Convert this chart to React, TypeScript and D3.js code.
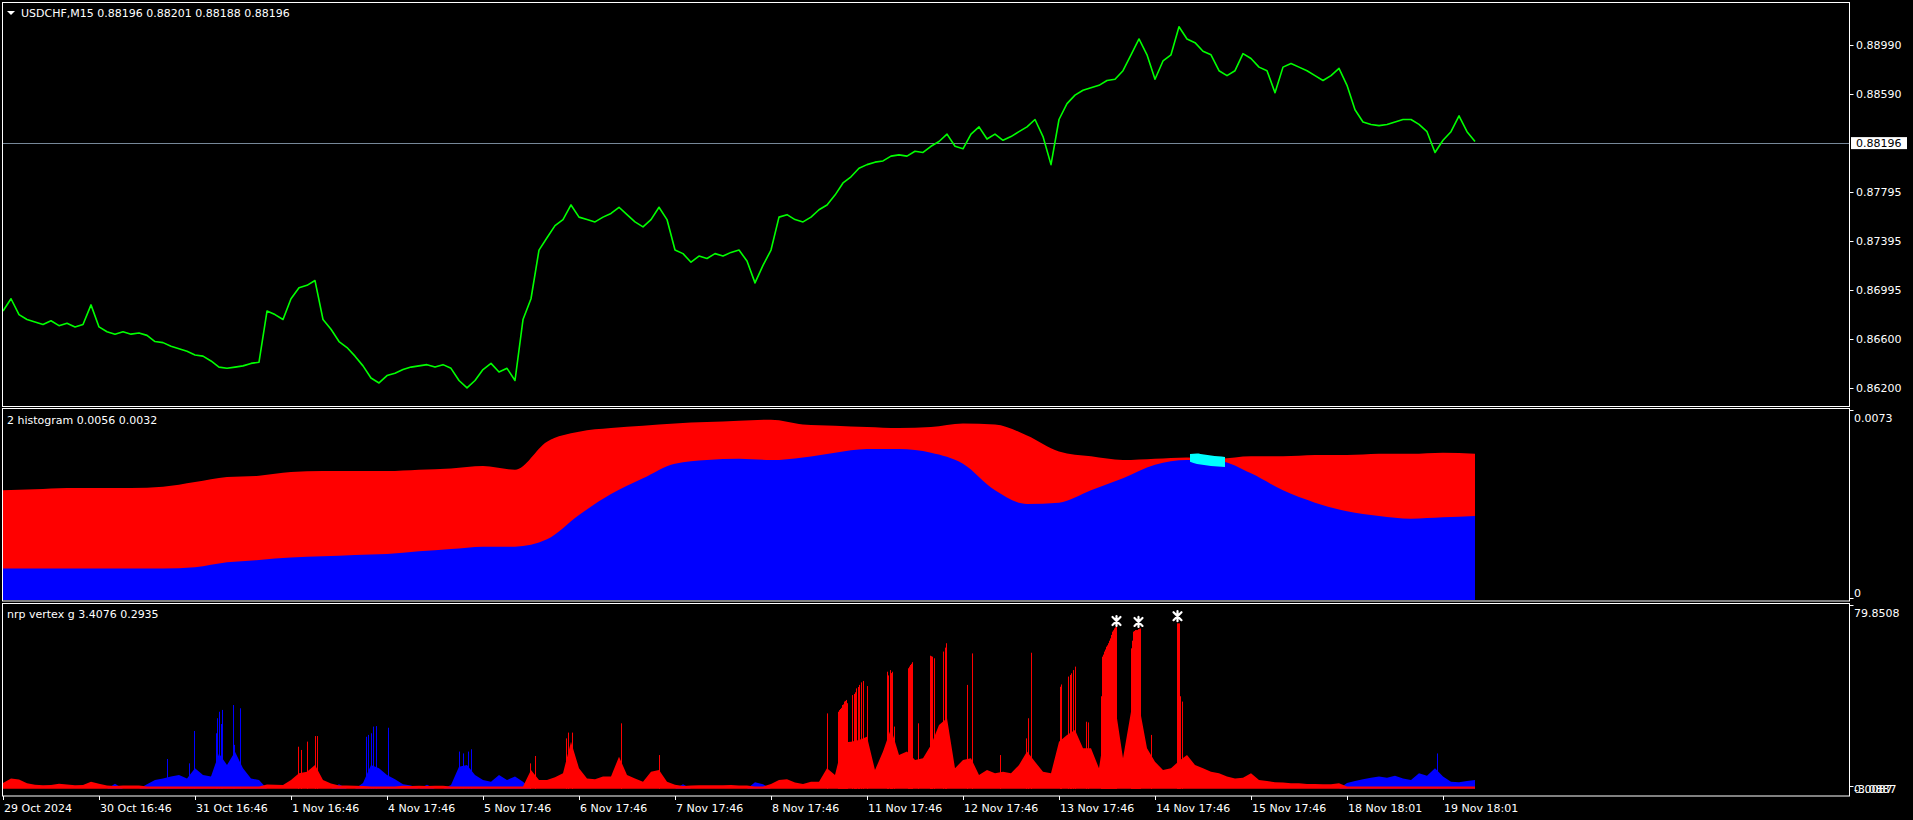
import React, { useEffect } from 'react';
import * as d3 from 'd3';

const W = 1913;
const H = 820;

// ---------- DATA ----------
const symbolTitle = 'USDCHF,M15  0.88196 0.88201 0.88188 0.88196';
const histTitle = '2 histogram 0.0056 0.0032';
const vertexTitle = 'nrp vertex g 3.4076 0.2935';

const priceTicks = [0.8899, 0.8859, 0.87795, 0.87395, 0.86995, 0.866, 0.862];
const priceTickLabels = ['0.88990', '0.88590', '0.87795', '0.87395', '0.86995', '0.86600', '0.86200'];
const lastPrice = 0.88196;
const lastPriceLabel = '0.88196';

const timeLabels = [
  '29 Oct 2024', '30 Oct 16:46', '31 Oct 16:46', '1 Nov 16:46', '4 Nov 17:46', '5 Nov 17:46',
  '6 Nov 17:46', '7 Nov 17:46', '8 Nov 17:46', '11 Nov 17:46', '12 Nov 17:46', '13 Nov 17:46',
  '14 Nov 17:46', '15 Nov 17:46', '18 Nov 18:01', '19 Nov 18:01',
];
const BARS_PER_DAY = 96;
const TOTAL_BARS = 1475;

// price closes sampled every 8 bars (2 hours)
const PRICE_STEP = 8;
const priceCloses = [
  0.86826, 0.86926, 0.86797, 0.86757, 0.86737, 0.86717, 0.86747, 0.86707, 0.86727, 0.86697,
  0.86717, 0.86876, 0.86697, 0.86658, 0.86638, 0.86658, 0.86638, 0.86648, 0.86628, 0.86578,
  0.86569, 0.86539, 0.86519, 0.86499, 0.86469, 0.86459, 0.8642, 0.8637, 0.8636, 0.8637,
  0.8638, 0.864, 0.8641, 0.86826, 0.86797, 0.86757, 0.86926, 0.87015, 0.87035, 0.87074,
  0.86757, 0.86678, 0.86578, 0.86529, 0.86459, 0.8638, 0.86281, 0.86241, 0.86301, 0.8632,
  0.8635, 0.8637, 0.8638, 0.8639, 0.8637, 0.8639, 0.8636, 0.86261, 0.86201, 0.86261,
  0.8635, 0.864, 0.8633, 0.8636, 0.86261, 0.86757, 0.86926, 0.87322, 0.87422, 0.87521,
  0.8757, 0.87689, 0.8759, 0.8757, 0.87551, 0.8759, 0.8762, 0.8767, 0.8761, 0.87551,
  0.87511, 0.8757, 0.8767, 0.8757, 0.87322, 0.87293, 0.87223, 0.87273, 0.87253, 0.87293,
  0.87273, 0.87303, 0.87322, 0.87233, 0.87055, 0.87197, 0.87322, 0.8759, 0.8761, 0.8757,
  0.87551, 0.8759, 0.8765, 0.87689, 0.87769, 0.87868, 0.87918, 0.87987, 0.88017, 0.88037,
  0.88047, 0.88086, 0.88096, 0.88086, 0.88126, 0.88116, 0.88166, 0.88205, 0.88265, 0.88166,
  0.88146, 0.88265, 0.88324, 0.88225, 0.88265, 0.88215, 0.88245, 0.88285, 0.88324, 0.88384,
  0.88245, 0.88017, 0.88384, 0.88513, 0.88582, 0.88622, 0.88642, 0.88662, 0.88701, 0.88711,
  0.88781, 0.8891, 0.89039, 0.8891, 0.88711, 0.8886, 0.8891, 0.89138, 0.89039, 0.89009,
  0.88939, 0.8891, 0.88781, 0.88741, 0.88781, 0.8892, 0.8888, 0.8881, 0.88781, 0.88602,
  0.8881, 0.8884, 0.8881, 0.88781, 0.88741, 0.88701, 0.88741, 0.888, 0.88662, 0.88463,
  0.88364, 0.88344, 0.88334, 0.88344, 0.88364, 0.88384, 0.88384, 0.88344, 0.88285, 0.88116,
  0.88215, 0.88285, 0.88414, 0.88285, 0.88205,
];

// histogram indicator, sampled every 32 bars
const HIST_STEP = 32;
const histMax = 0.0073;
const histRed = [
  0.00419, 0.00423, 0.00428, 0.00428, 0.00428, 0.00433, 0.00451, 0.0047, 0.00475, 0.00489,
  0.00493, 0.00493, 0.00493, 0.00498, 0.00503, 0.00512, 0.00498, 0.00605, 0.00643, 0.00657,
  0.00666, 0.00675, 0.0068, 0.00685, 0.00689, 0.00671, 0.00666, 0.00661, 0.00657, 0.00661,
  0.00675, 0.00671, 0.00629, 0.00568, 0.00549, 0.00535, 0.0054, 0.00545, 0.0054, 0.00549,
  0.00549, 0.00554, 0.00554, 0.00559, 0.00559, 0.00563, 0.00559,
];
const histBlue = [
  0.0012, 0.0012, 0.0012, 0.0012, 0.0012, 0.0012, 0.00125, 0.00144, 0.00153, 0.00162,
  0.00167, 0.00172, 0.00176, 0.00186, 0.00195, 0.00204, 0.00204, 0.00232, 0.00325, 0.00405,
  0.00465, 0.00521, 0.00535, 0.0054, 0.00535, 0.00545, 0.00563, 0.00577, 0.00577, 0.00563,
  0.00521, 0.00419, 0.00367, 0.00372, 0.00419, 0.00465, 0.00517, 0.00535, 0.00531, 0.00484,
  0.00419, 0.00372, 0.00339, 0.00321, 0.00311, 0.00316, 0.00321,
];
const cyanStart = 1187;
const CYAN_STEP = 7;
const cyanHigh = [0.00558, 0.0056, 0.00556, 0.00552, 0.00549, 0.00547];
const cyanLow = [0.00528, 0.0052, 0.00516, 0.00512, 0.0051, 0.00508];

// vertex indicator
const vertexMax = 79.8508;
const vertexMin = -3.0887;
const VERTEX_STEP = 8;
const vertexRed = [
  2.5, 4.5, 4.0, 2.4, 1.8, 1.6, 1.7, 2.2, 1.9, 1.6,
  1.7, 3.1, 2.2, 1.5, 1.2, 1.5, 1.5, 1.5, 1.0, 1.0,
  1.0, 1.0, 1.0, 1.0, 1.0, 1.0, 1.0, 1.0, 1.0, 1.0,
  1.0, 1.0, 1.0, 1.9, 1.8, 1.7, 3.8, 6.7, 7.4, 10.3,
  3.8, 2.3, 1.5, 1.5, 1.3, 1.2, 1.0, 1.0, 1.0, 1.0,
  1.3, 1.2, 1.3, 1.2, 1.3, 1.3, 1.0, 1.0, 1.0, 1.0,
  1.0, 1.0, 1.0, 1.0, 1.0, 1.0, 8.1, 3.8, 3.8, 5.0,
  6.7, 20.4, 8.9, 4.5, 4.1, 5.3, 5.3, 13.9, 6.0, 4.5,
  3.1, 7.4, 8.1, 3.1, 1.8, 1.2, 1.5, 1.6, 1.6, 1.6,
  1.6, 1.7, 1.5, 1.5, 1.0, 1.0, 2.1, 3.8, 4.2, 2.7,
  2.1, 3.1, 3.1, 8.9, 6.0, 20.0, 20.4, 21.1, 22.5, 8.1,
  16.1, 26.1, 14.6, 16.1, 12.5, 13.2, 18.9, 27.6, 30.5, 8.9,
  12.5, 13.2, 6.0, 8.1, 6.7, 7.4, 6.7, 10.3, 16.1, 11.7,
  7.4, 6.7, 20.4, 23.3, 25.4, 17.5, 17.5, 8.9, 31.2, 36.2,
  13.2, 33.3, 36.2, 17.5, 11.7, 8.1, 8.9, 12.0, 14.6, 10.3,
  8.9, 7.4, 6.7, 5.3, 4.5, 4.8, 6.7, 3.8, 3.4, 2.8,
  2.7, 2.4, 2.4, 2.1, 2.1, 2.0, 2.0, 2.4, 1.0, 1.0,
  1.0, 1.0, 1.0, 1.0, 1.0, 1.0, 1.0, 1.0, 1.0, 1.0,
  1.0, 1.0, 1.0, 1.0, 1.0,
];
const vertexBlue = [
  0, 0, 0, 0, 0, 0, 0, 0, 0, 0,
  0, 0, 0, 0, 2.2, 0, 0, 0, 2.0, 3.8,
  4.5, 5.3, 6.0, 4.5, 8.9, 6.0, 5.3, 15.3, 10.3, 16.0,
  8.9, 4.5, 3.8, 0, 0, 0, 0, 0, 0, 0,
  0, 0, 2.0, 0, 0, 2.5, 10.3, 8.9, 6.0, 4.1,
  2.0, 1.5, 0, 1.8, 0, 0, 1.7, 9.6, 10.3, 6.0,
  3.8, 3.1, 6.0, 3.8, 5.3, 3.1, 0, 0, 0, 0,
  0, 0, 0, 0, 0, 0, 0, 0, 0, 0,
  0, 0, 0, 0, 0, 2.0, 0, 0, 0, 0,
  0, 0, 0, 0, 2.8, 2.0, 0, 0, 0, 0,
  0, 0, 0, 0, 0, 0, 0, 0, 0, 0,
  0, 0, 0, 0, 0, 0, 0, 0, 0, 0,
  0, 0, 0, 0, 0, 0, 0, 0, 0, 0,
  0, 0, 0, 0, 0, 0, 0, 0, 0, 0,
  0, 0, 0, 0, 0, 0, 0, 0, 0, 0,
  0, 0, 0, 0, 0, 0, 0, 0, 0, 0,
  0, 0, 0, 0, 0, 0, 0, 0, 2.5, 3.4,
  4.2, 4.8, 5.3, 4.8, 5.7, 4.5, 3.8, 6.7, 5.7, 8.9,
  5.3, 3.1, 2.8, 3.4, 3.8,
];
const blueSpikeBars = [164, 186, 191, 213, 214, 216, 218, 219, 230, 231, 237, 363, 365, 368, 370, 373, 385, 456, 460, 465, 468, 1434];
const blueSpikeValues = [12.9, 11, 25, 24, 30.5, 33.3, 28, 34.1, 36.2, 19, 34.8, 22.5, 23.3, 24, 26.9, 27.1, 26.4, 16.1, 15.3, 16.1, 17.1, 15.3];
const redSpikeBars = [
  295, 298, 304, 312, 314, 527, 532, 563, 565, 569, 618, 656,
  824, 835, 836, 837, 838, 839, 840, 841, 842, 843, 844, 849, 851, 852, 853, 855, 856, 858, 860, 864,
  884, 885, 887, 888, 889, 891, 905, 906, 907, 908, 909, 915, 927, 928, 929, 931, 940, 942, 943, 964, 969, 997,
  1023, 1025, 1028, 1057, 1058, 1065, 1067, 1068, 1070, 1072, 1083, 1085,
  1098, 1099, 1100, 1101, 1102, 1103, 1104, 1105, 1106, 1107, 1108, 1109, 1110, 1111, 1112, 1113,
  1128, 1129, 1130, 1131, 1132, 1133, 1134, 1135, 1136, 1137, 1148,
  1174, 1175, 1176, 1177, 1179,
];
const redSpikeValues = [
  18.2, 16.8, 20.4, 22.8, 22.8, 11, 14.2, 21.8, 24.3, 24.3, 28.3, 14.6,
  32.6, 33.3, 34, 34.5, 35, 36.2, 36.5, 37.7, 38, 38.4, 37, 40.5, 41, 41.7, 43.4, 44, 44.9, 46, 46.6, 44.4,
  50.6, 49, 51.3, 50, 50.6, 26.9, 52.1, 52.8, 53.5, 54, 54.7, 28.3, 57.5, 57.3, 57.1, 56.4, 59.3, 61, 62.9, 44.9, 58.5, 14.6,
  21.8, 30.5, 58.8, 44.1, 45.1, 48.5, 49.2, 49.9, 51.3, 52.8, 29, 28.7,
  40, 57.1, 58, 59.3, 60.2, 61.4, 62, 62.9, 64, 65, 66.5, 67.9, 68.5, 69.3, 69.8, 70,
  60.7, 64, 67.9, 68.2, 68.6, 68.6, 68.6, 69, 69.2, 69.3, 23.3,
  71.5, 71.5, 71.5, 40, 37.7,
];
const markerBars = [1113, 1135, 1174];
const markerValues = [72.5, 72.1, 74.6];

// ---------- LAYOUT ----------
const LEFT = 2.5;
const RIGHT = 1849.5;
const P1 = { top: 2.5, bottom: 406.5 };
const P2 = { top: 408.5, bottom: 601 };
const P3 = { top: 603.5, bottom: 796 };
const FONT = "'DejaVu Sans', Tahoma, sans-serif";
const GRAY = '#778899';

export default function App() {
  useEffect(() => {
    document.body.style.margin = '0';
    document.body.style.background = '#000';
  }, []);

  const x = d3.scaleLinear().domain([0, TOTAL_BARS]).range([3, 1478]);
  const yMain = d3.scaleLinear().domain([0.862, 0.8899]).range([388, 45]);
  const y2 = d3.scaleLinear().domain([0, histMax]).range([600, 409]);
  const y3 = d3.scaleLinear().domain([vertexMin, vertexMax]).range([796, 604]);

  const priceLine = d3
    .line<number>()
    .x((_, i) => x(i * PRICE_STEP))
    .y((d) => yMain(d))
    .curve(d3.curveLinear)(priceCloses) as string;

  const histArea = (vals: number[]) =>
    d3
      .area<number>()
      .x((_, i) => x(Math.min(i * HIST_STEP, TOTAL_BARS)))
      .y0(y2(0))
      .y1((d) => y2(d))
      .curve(d3.curveMonotoneX)(vals) as string;

  const cyanArea = d3
    .area<number>()
    .x((_, i) => x(cyanStart + i * CYAN_STEP))
    .y0((_, i) => y2(cyanLow[i]))
    .y1((d) => y2(d))
    .curve(d3.curveMonotoneX)(cyanHigh) as string;

  const vArea = (vals: number[]) =>
    d3
      .area<number>()
      .x((_, i) => x(i * VERTEX_STEP))
      .y0(y3(0))
      .y1((d) => y3(d))
      .curve(d3.curveLinear)(vals) as string;

  const dayTicks = timeLabels.map((_, i) => i * BARS_PER_DAY);

  const textStyle = { fontFamily: FONT, fontSize: 11, fill: '#fff' } as const;

  return (
    <svg
      width={W}
      height={H}
      style={{ position: 'fixed', left: 0, top: 0, background: '#000', display: 'block' }}
    >
      <rect x={0} y={0} width={W} height={H} fill="#000" />
      <defs>
        <clipPath id="c1"><rect x={LEFT} y={P1.top} width={RIGHT - LEFT} height={P1.bottom - P1.top} /></clipPath>
        <clipPath id="c2"><rect x={LEFT} y={P2.top} width={RIGHT - LEFT} height={P2.bottom - P2.top} /></clipPath>
        <clipPath id="c3"><rect x={LEFT} y={P3.top} width={RIGHT - LEFT} height={P3.bottom - P3.top} /></clipPath>
      </defs>

      {/* ---------- main price panel ---------- */}
      <g clipPath="url(#c1)">
        <line x1={LEFT} x2={RIGHT} y1={Math.round(yMain(lastPrice)) + 0.5} y2={Math.round(yMain(lastPrice)) + 0.5} stroke={GRAY} strokeWidth={1} />
        <path d={priceLine} fill="none" stroke="#00ff00" strokeWidth={1.6} strokeLinejoin="round" />
      </g>
      <rect x={LEFT} y={P1.top} width={RIGHT - LEFT} height={P1.bottom - P1.top} fill="none" stroke="#fff" strokeWidth={1} />
      <path d="M7,11 L15,11 L11,15 Z" fill="#fff" />
      <text x={21} y={16.5} style={textStyle}>{symbolTitle}</text>
      {priceTicks.map((v, i) => (
        <g key={'pt' + i}>
          <line x1={RIGHT} x2={RIGHT + 4} y1={Math.round(yMain(v)) + 0.5} y2={Math.round(yMain(v)) + 0.5} stroke="#fff" />
          <text x={1856} y={yMain(v) + 4} style={textStyle}>{priceTickLabels[i]}</text>
        </g>
      ))}
      <rect x={1851} y={yMain(lastPrice) - 5.5} width={56} height={12} fill="#fff" />
      <text x={1856} y={yMain(lastPrice) + 4.5} style={{ ...textStyle, fill: '#000' }}>{lastPriceLabel}</text>

      {/* ---------- histogram panel ---------- */}
      <g clipPath="url(#c2)">
        <path d={histArea(histRed)} fill="#ff0000" />
        <path d={histArea(histBlue)} fill="#0000ff" />
        <path d={cyanArea} fill="#00ffff" />
      </g>
      <rect x={LEFT} y={P2.top} width={RIGHT - LEFT} height={P2.bottom - P2.top} fill="none" stroke="#fff" strokeWidth={1} />
      <text x={7} y={424} style={textStyle}>{histTitle}</text>
      <line x1={RIGHT} x2={RIGHT + 4} y1={410.5} y2={410.5} stroke="#fff" />
      <text x={1854} y={421.5} style={textStyle}>{String(histMax)}</text>
      <line x1={RIGHT} x2={RIGHT + 4} y1={598.5} y2={598.5} stroke="#fff" />
      <text x={1854} y={597} style={textStyle}>0</text>

      {/* ---------- vertex panel ---------- */}
      <g clipPath="url(#c3)">
        <path d={vArea(vertexBlue)} fill="#0000ff" />
        {blueSpikeBars.map((b, i) => (
          <rect key={'bs' + i} x={Math.round(x(b))} y={y3(blueSpikeValues[i])} width={1} height={y3(0) - y3(blueSpikeValues[i])} fill="#0000ff" />
        ))}
        <path d={vArea(vertexRed)} fill="#ff0000" />
        {redSpikeBars.map((b, i) => (
          <rect key={'rs' + i} x={Math.round(x(b))} y={y3(redSpikeValues[i])} width={1} height={y3(0) - y3(redSpikeValues[i])} fill="#ff0000" />
        ))}
        {markerBars.map((b, i) => {
          const cx = x(b) + 0.5;
          const cy = y3(markerValues[i]);
          return (
            <g key={'mk' + i}>
              <path
                d={`M${cx - 4},${cy - 4} L${cx + 4},${cy + 4} M${cx + 4},${cy - 4} L${cx - 4},${cy + 4} M${cx},${cy - 5} L${cx},${cy + 5}`}
                stroke="#fff"
                strokeWidth={2.2}
                strokeLinecap="round"
              />
            </g>
          );
        })}
      </g>
      <rect x={LEFT} y={P3.top} width={RIGHT - LEFT} height={P3.bottom - P3.top} fill="none" stroke="#fff" strokeWidth={1} />
      <text x={7} y={618} style={textStyle}>{vertexTitle}</text>
      <line x1={RIGHT} x2={RIGHT + 4} y1={605.5} y2={605.5} stroke="#fff" />
      <text x={1854} y={617} style={textStyle}>{String(vertexMax)}</text>
      <line x1={RIGHT} x2={RIGHT + 4} y1={786.5} y2={786.5} stroke="#fff" />
      <text x={1854} y={792.5} style={textStyle}>{vertexMin.toFixed(4)}</text>
      <text x={1854} y={792.5} style={textStyle}>0.0087</text>

      {/* ---------- time axis ---------- */}
      {dayTicks.map((b, i) => (
        <g key={'tt' + i}>
          <line x1={Math.round(x(b)) + 0.5} x2={Math.round(x(b)) + 0.5} y1={P3.bottom} y2={P3.bottom + 4} stroke="#fff" />
          <text x={Math.round(x(b)) + 1} y={811.5} style={textStyle}>{timeLabels[i]}</text>
        </g>
      ))}
    </svg>
  );
}
